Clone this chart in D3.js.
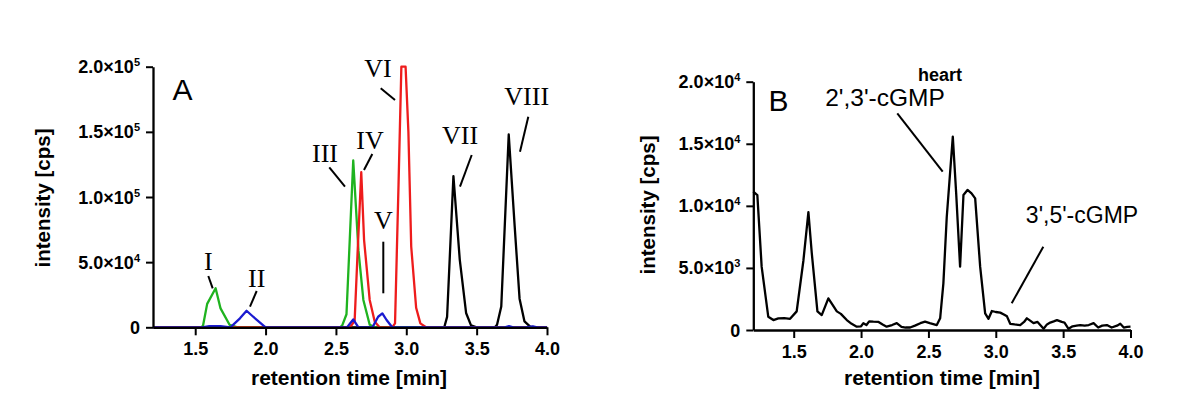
<!DOCTYPE html>
<html><head><meta charset="utf-8">
<script src="https://cdn.jsdelivr.net/npm/d3@7"></script>
<style>
html,body{margin:0;padding:0;background:#fff;}
svg{display:block;}
text{font-family:"Liberation Sans",Arial,sans-serif;}
.roman{font-family:"Liberation Serif","Times New Roman",serif;}
</style></head>
<body>
<svg id="chart" width="1200" height="419"></svg>
<script>
// ---------- DATA ----------
const xTicks = [1.5, 2.0, 2.5, 3.0, 3.5, 4.0];
const yTicksA = [0, 50000, 100000, 150000, 200000];
const yTickMantA = ["0", "5.0", "1.0", "1.5", "2.0"];
const yTickExpA = ["", "4", "5", "5", "5"];
const yTicksB = [0, 5000, 10000, 15000, 20000];
const yTickMantB = ["0", "5.0", "1.0", "1.5", "2.0"];
const yTickExpB = ["", "3", "4", "4", "4"];

// Panel A series: [retention time (min), intensity (cps)]
const greenA = [[1.2,0],[1.54,0],[1.555,1000],[1.585,18000],[1.645,30000],[1.68,14500],[1.745,1800],[1.8,0],
  [2.53,0],[2.545,1500],[2.575,10000],[2.623,128000],[2.66,59000],[2.695,21000],[2.74,2000],[2.78,0],[4.0,0]];
const redA = [[1.2,0],[2.6,0],[2.633,5000],[2.655,60000],[2.68,119000],[2.7,67000],[2.74,21000],[2.776,4300],[2.81,0],
  [2.9,0],[2.92,3000],[2.945,110000],[2.965,200000],[2.995,200000],[3.015,150000],[3.035,62000],[3.07,15000],[3.1,3000],[3.14,0],[4.0,0]];
const blackA = [[1.2,0],[3.27,0],[3.29,8000],[3.335,116000],[3.38,52000],[3.425,11000],[3.46,1500],[3.5,0],
  [3.63,0],[3.645,2000],[3.675,16000],[3.728,148000],[3.77,78000],[3.805,22000],[3.84,4500],[3.88,500],[3.92,0],[4.0,0]];
const blueA = [[1.2,0],[1.55,0],[1.6,900],[1.68,800],[1.75,0],[1.818,6900],[1.865,12700],[1.912,8100],[2.0,0],
  [2.58,0],[2.623,6100],[2.66,0],[2.76,0],[2.8,8100],[2.83,10700],[2.86,5600],[2.9,0],
  [3.7,0],[3.73,900],[3.76,0],[3.85,0],[3.9,700],[3.93,0],[4.0,0]];

// Panel B series (heart)
const heartB = [[1.2,11140],[1.23,10870],[1.262,5100],[1.311,1070],[1.349,800],[1.386,940],[1.43,950],[1.473,900],
  [1.522,1500],[1.572,5600],[1.609,9500],[1.634,6200],[1.676,1500],[1.708,1200],[1.757,2550],[1.79,2000],[1.82,1500],
  [1.85,1300],[1.894,800],[1.93,500],[1.968,270],[2.0,300],[2.017,550],[2.04,400],[2.06,700],[2.091,670],[2.13,650],
  [2.16,450],[2.19,270],[2.23,400],[2.265,550],[2.3,250],[2.33,200],[2.364,200],[2.4,350],[2.44,550],[2.475,670],
  [2.51,550],[2.562,400],[2.587,940],[2.611,3760],[2.636,9100],[2.681,15570],[2.706,11000],[2.735,5100],[2.76,10870],
  [2.79,11280],[2.82,11000],[2.847,10600],[2.884,5100],[2.921,1340],[2.946,900],[2.971,1530],[3.0,1450],[3.033,1400],
  [3.06,1250],[3.083,1100],[3.107,500],[3.14,450],[3.181,400],[3.21,650],[3.231,940],[3.255,750],[3.28,550],[3.31,650],
  [3.355,100],[3.38,450],[3.404,600],[3.43,700],[3.454,800],[3.49,650],[3.51,600],[3.54,100],[3.57,300],[3.6,350],
  [3.627,400],[3.66,350],[3.69,400],[3.726,550],[3.76,200],[3.79,350],[3.825,400],[3.86,200],[3.9,350],[3.924,500],
  [3.95,200],[3.975,250],[4.0,270]];

// ---------- DRAW ----------
const svg = d3.select("#chart");

function panel(cfg) {
  const x = d3.scaleLinear().domain([1.2, 4.0]).range([cfg.x0, cfg.x1]);
  const y = d3.scaleLinear().domain([0, cfg.ymax]).range([cfg.y0, cfg.y1]);
  const g = svg.append("g");

  const line = d3.line().x(d => x(d[0])).y(d => y(d[1]));
  cfg.series.forEach(s => {
    g.append("path").datum(s.data).attr("d", line)
      .attr("fill", "none").attr("stroke", s.color).attr("stroke-width", 2.3)
      .attr("stroke-linejoin", "round");
  });

  const xa = g.append("g").attr("transform", `translate(0,${cfg.y0})`)
    .call(d3.axisBottom(x).tickValues(xTicks).tickSize(8).tickSizeOuter(0).tickFormat(d3.format(".1f")));
  xa.select(".domain").attr("stroke", "#000").attr("stroke-width", 2.3);
  xa.selectAll(".tick line").attr("stroke", "#000").attr("stroke-width", 2);
  xa.selectAll(".tick text").attr("font-size", 18).attr("font-weight", "bold")
    .attr("font-family", "Liberation Sans, Arial, sans-serif").attr("dy", "0.95em").attr("fill", "#000");

  const ya = g.append("g").attr("transform", `translate(${cfg.x0},0)`)
    .call(d3.axisLeft(y).tickValues(cfg.yTicks).tickSize(7).tickSizeOuter(0).tickFormat(""));
  ya.select(".domain").attr("stroke", "#000").attr("stroke-width", 2.3);
  ya.selectAll(".tick line").attr("stroke", "#000").attr("stroke-width", 2);
  cfg.yTicks.forEach((v, i) => {
    const t = g.append("text").attr("x", cfg.x0 - 13).attr("y", y(v) + 6.5)
      .attr("text-anchor", "end").attr("font-size", 18).attr("font-weight", "bold");
    if (cfg.exps[i] === "") {
      t.text(cfg.mants[i]);
    } else {
      t.append("tspan").text(cfg.mants[i] + "\u00d710");
      t.append("tspan").attr("font-size", 11).attr("dy", -7).text(cfg.exps[i]);
    }
  });

  g.append("text").attr("x", cfg.xTitleX).attr("y", 385).attr("text-anchor", "middle")
    .attr("font-size", 21).attr("font-weight", "bold").text("retention time [min]");
  g.append("text").attr("transform", `translate(${cfg.yTitleX},${cfg.yTitleY}) rotate(-90)`)
    .attr("text-anchor", "middle").attr("font-size", 20.5).attr("font-weight", "bold").text("intensity [cps]");
  return g;
}

panel({
  x0: 153, x1: 547, y0: 327.3, y1: 66.7, ymax: 200000,
  yTicks: yTicksA, mants: yTickMantA, exps: yTickExpA,
  xTitleX: 349, yTitleX: 50, yTitleY: 198,
  series: [
    {data: blackA, color: "#000000"},
    {data: greenA, color: "#1fb31f"},
    {data: redA, color: "#ee1c1c"},
    {data: blueA, color: "#1a1ad0"}
  ]
});

panel({
  x0: 753.3, x1: 1130.5, y0: 330, y1: 81.7, ymax: 20000,
  yTicks: yTicksB, mants: yTickMantB, exps: yTickExpB,
  xTitleX: 942, yTitleX: 655, yTitleY: 205,
  series: [{data: heartB, color: "#000000"}]
});

svg.append("text").attr("x", 182.5).attr("y", 100).attr("text-anchor", "middle").attr("font-size", 30).text("A");
svg.append("text").attr("x", 778.5).attr("y", 111).attr("text-anchor", "middle").attr("font-size", 30).text("B");
svg.append("text").attr("x", 940).attr("y", 81).attr("text-anchor", "middle").attr("font-size", 18)
  .attr("font-weight", "bold").text("heart");

const romanLabels = [
  {t: "I", x: 208.3, y: 270, l: [208.3, 276, 212.7, 288.3]},
  {t: "II", x: 256.7, y: 287, l: [256.7, 291, 250, 306.7]},
  {t: "III", x: 325, y: 162, l: [329.3, 167.3, 345, 186.7]},
  {t: "IV", x: 370, y: 148.5, l: [372.3, 154, 364, 170]},
  {t: "V", x: 383.3, y: 228.5, l: [383.3, 241.7, 383.3, 293.3]},
  {t: "VI", x: 378, y: 76.5, l: [380.7, 88.3, 395, 100]},
  {t: "VII", x: 460, y: 143.5, l: [471.7, 155, 460, 186.7]},
  {t: "VIII", x: 526.7, y: 105, l: [528.3, 116.7, 520, 151.7]}
];
romanLabels.forEach(r => {
  svg.append("text").attr("class", "roman").attr("x", r.x).attr("y", r.y).attr("text-anchor", "middle")
    .attr("font-size", 26).text(r.t);
  svg.append("line").attr("x1", r.l[0]).attr("y1", r.l[1]).attr("x2", r.l[2]).attr("y2", r.l[3])
    .attr("stroke", "#000").attr("stroke-width", 2);
});

svg.append("text").attr("x", 885).attr("y", 106).attr("text-anchor", "middle").attr("font-size", 24.5).text("2',3'-cGMP");
svg.append("line").attr("x1", 897.3).attr("y1", 113.3).attr("x2", 942.7).attr("y2", 171.7).attr("stroke", "#000").attr("stroke-width", 2);
svg.append("text").attr("x", 1082).attr("y", 223).attr("text-anchor", "middle").attr("font-size", 23).text("3',5'-cGMP");
svg.append("line").attr("x1", 1043.3).attr("y1", 246.7).attr("x2", 1011.7).attr("y2", 303.3).attr("stroke", "#000").attr("stroke-width", 2);
</script>
</body></html>
